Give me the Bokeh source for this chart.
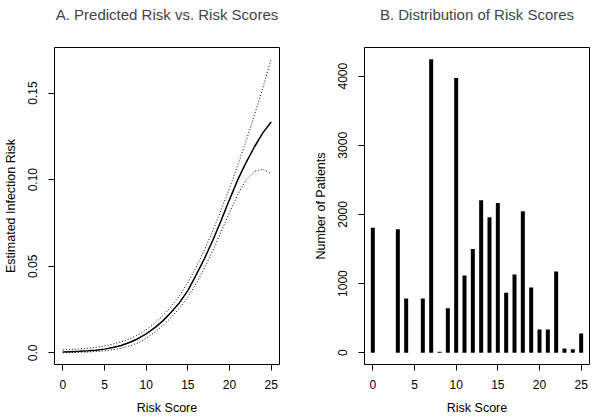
from bokeh.plotting import figure
from bokeh.layouts import row
from bokeh.models import FixedTicker, CustomJSTickFormatter, Range1d, ColumnDataSource
from bokeh.embed import file_html
from bokeh.resources import INLINE

# ---- Data ----
risk_score = list(range(0, 26))
pred_risk = [0.0005, 0.0007, 0.0009, 0.0012, 0.0016, 0.0022, 0.0031, 0.0043, 0.0060, 0.0082,
             0.0110, 0.0145, 0.0185, 0.0235, 0.0290, 0.0360, 0.0450, 0.0545, 0.0650, 0.0765,
             0.0885, 0.1000, 0.1100, 0.1190, 0.1270, 0.1333]
upper_ci = [0.0018, 0.0020, 0.0023, 0.0027, 0.0032, 0.0040, 0.0051, 0.0064, 0.0081, 0.0104,
            0.0133, 0.0170, 0.0214, 0.0267, 0.0330, 0.0405, 0.0495, 0.0595, 0.0705, 0.0825,
            0.0950, 0.1085, 0.1225, 0.1375, 0.1530, 0.1695]
lower_ci = [0.0001, 0.0002, 0.0003, 0.0005, 0.0008, 0.0012, 0.0018, 0.0027, 0.0040, 0.0058,
            0.0085, 0.0118, 0.0158, 0.0205, 0.0258, 0.0322, 0.0400, 0.0490, 0.0590, 0.0700,
            0.0810, 0.0915, 0.1000, 0.1048, 0.1060, 0.1035]

hist_scores = [0, 3, 4, 6, 7, 8, 9, 10, 11, 12, 13, 14, 15, 16, 17, 18, 19, 20, 21, 22, 23, 24, 25]
hist_counts = [1806, 1787, 786, 786, 4244, 15, 642, 3971, 1116, 1500, 2204, 1960, 2165, 868,
               1131, 2046, 944, 336, 336, 1174, 63, 49, 279]

x_ticks = [0, 5, 10, 15, 20, 25]
yA_ticks = [0.0, 0.05, 0.10, 0.15]
yB_ticks = [0, 1000, 2000, 3000, 4000]

FONT = "Liberation Sans"


def style(p, xlab, ylab, yticks, yfmt):
    p.title.text_font = FONT
    p.title.text_font_size = "15px"
    p.title.text_font_style = "normal"
    p.title.align = "center"
    p.title.standoff = 0
    p.title.padding = (0, 0, 0, 25)
    p.outline_line_color = "black"
    p.outline_line_width = 1
    p.xgrid.visible = False
    p.ygrid.visible = False
    p.background_fill_color = "white"
    p.border_fill_color = "white"
    for ax in (p.xaxis[0], p.yaxis[0]):
        ax.axis_line_color = None
        ax.major_tick_line_color = "black"
        ax.major_tick_out = 6
        ax.major_tick_in = 0
        ax.minor_tick_line_color = None
        ax.major_label_text_font = FONT
        ax.major_label_text_font_size = "12px"
        ax.major_label_text_color = "black"
        ax.axis_label_text_font = FONT
        ax.axis_label_text_font_size = "12.5px"
        ax.axis_label_text_font_style = "normal"
        ax.axis_label_text_color = "black"
    p.xaxis[0].major_label_standoff = 9
    p.xaxis[0].axis_label_standoff = 9
    p.yaxis[0].major_label_standoff = 11
    p.yaxis[0].axis_label_standoff = 8
    p.xaxis[0].axis_label = xlab
    p.yaxis[0].axis_label = ylab
    p.xaxis[0].ticker = FixedTicker(ticks=x_ticks)
    p.yaxis[0].ticker = FixedTicker(ticks=yticks)
    p.yaxis[0].major_label_orientation = "vertical"
    p.yaxis[0].formatter = CustomJSTickFormatter(code=yfmt)


# ---- Panel A ----
ymin = min(lower_ci)
ymax = max(upper_ci)
pad = 0.04 * (ymax - ymin)
pA = figure(width=300, height=417, output_backend="svg", toolbar_location=None,
            title="A. Predicted Risk vs. Risk Scores",
            x_range=Range1d(-1, 26), y_range=Range1d(ymin - pad, ymax + pad),
            min_border_left=54, min_border_right=21, min_border_top=47, min_border_bottom=53)
srcA = ColumnDataSource(dict(x=risk_score, y=pred_risk, up=upper_ci, lo=lower_ci))
pA.line("x", "y", source=srcA, line_color="black", line_width=1.5)
pA.line("x", "up", source=srcA, line_color="black", line_width=1, line_dash="1 2")
pA.line("x", "lo", source=srcA, line_color="black", line_width=1, line_dash="1 2")
style(pA, "Risk Score", "Estimated Infection Risk", yA_ticks,
      "return tick == 0 ? '0.0' : tick.toFixed(2);")

# ---- Panel B ----
cmax = max(hist_counts)
pB = figure(width=300, height=417, output_backend="svg", toolbar_location=None,
            title="B. Distribution of Risk Scores",
            x_range=Range1d(-1, 26), y_range=Range1d(-0.04 * cmax, 1.04 * cmax),
            min_border_left=64, min_border_right=11, min_border_top=47, min_border_bottom=53)
srcB = ColumnDataSource(dict(x=hist_scores, top=hist_counts))
pB.vbar(x="x", top="top", bottom=0, width=0.48, source=srcB,
        fill_color="black", line_color=None)
style(pB, "Risk Score", "Number of Patients", yB_ticks,
      "return tick.toFixed(0);")

layout = row(pA, pB)
open("out.html", "w").write(file_html(layout, INLINE))
